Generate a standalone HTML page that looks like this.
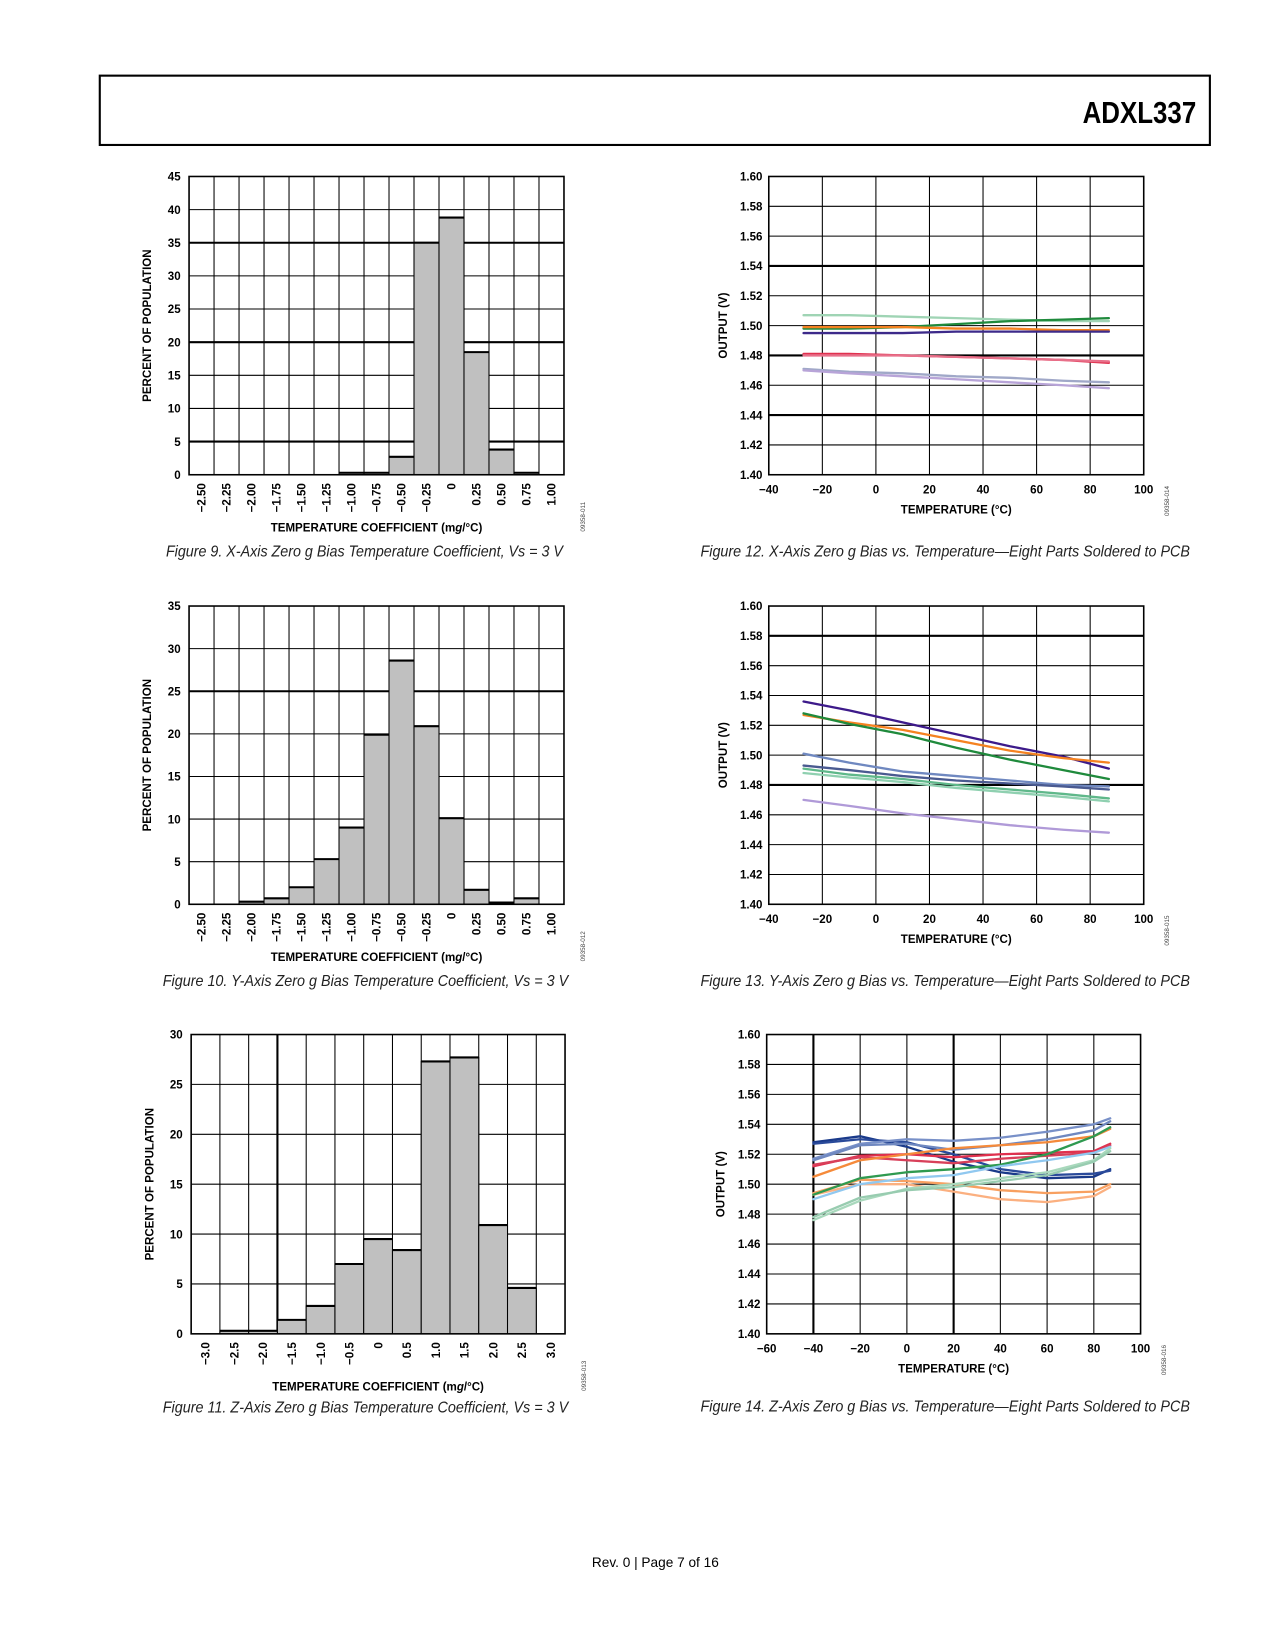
<!DOCTYPE html>
<html><head><meta charset="utf-8"><style>
html,body{margin:0;padding:0;background:#fff;}
svg{display:block;}
text{font-family:"Liberation Sans",Arial,sans-serif;}
.tk{font-size:11px;font-weight:bold;fill:#000;}
.cap{font-size:15px;font-style:italic;fill:#222;}
.id{font-size:6px;fill:#444;}
</style></head><body>
<svg id="page" width="1275" height="1650" viewBox="0 0 1214 1571" xmlns="http://www.w3.org/2000/svg">
<rect x="95" y="72" width="1057" height="66" fill="none" stroke="#000" stroke-width="2"/>
<text x="1139" y="117" text-anchor="end" style="font-size:29px;font-weight:bold;font-family:'Liberation Sans Narrow','Liberation Sans',sans-serif" transform="translate(1139 0) scale(0.85 1) translate(-1139 0)">ADXL337</text>
<text x="624" y="1492" text-anchor="middle" style="font-size:13px">Rev. 0 | Page 7 of 16</text>
<g id="charts"></g>
</svg>
<script>
// ---- data ----
const hist9Labels = ["−2.50","−2.25","−2.00","−1.75","−1.50","−1.25","−1.00","−0.75","−0.50","−0.25","0","0.25","0.50","0.75","1.00"];
const hist9Values = [0,0,0,0,0,0,0.3,0.3,2.7,35,38.8,18.5,3.8,0.3,0];
const hist10Labels = hist9Labels;
const hist10Values = [0,0,0.3,0.7,2,5.3,9,19.9,28.6,20.9,10.1,1.7,0.2,0.7,0];
const hist11Labels = ["−3.0","−2.5","−2.0","−1.5","−1.0","−0.5","0","0.5","1.0","1.5","2.0","2.5","3.0"];
const hist11Values = [0,0.3,0.3,1.4,2.8,7,9.5,8.4,27.3,27.7,10.9,4.6,0];

const tempsA = [-27,-10,10,30,50,70,87];
const fig12Series = [
 [1.507,1.507,1.506,1.505,1.504,1.503,1.503],
 [1.498,1.498,1.499,1.501,1.503,1.504,1.505],
 [1.499,1.499,1.499,1.498,1.498,1.497,1.497],
 [1.495,1.495,1.495,1.496,1.496,1.496,1.496],
 [1.481,1.481,1.480,1.479,1.478,1.477,1.475],
 [1.480,1.480,1.480,1.479,1.478,1.477,1.476],
 [1.471,1.469,1.468,1.466,1.465,1.463,1.462],
 [1.470,1.468,1.466,1.464,1.462,1.460,1.458]
];
const fig12Colors = ["#9fd4b4","#1f8a3c","#f58220","#3d2a8a","#e0304e","#e8708a","#a0a8c8","#b8a4d8"];
const fig13Series = [
 [1.536,1.530,1.522,1.514,1.506,1.499,1.491],
 [1.527,1.522,1.517,1.510,1.503,1.498,1.495],
 [1.528,1.521,1.514,1.505,1.497,1.490,1.484],
 [1.501,1.495,1.489,1.486,1.483,1.480,1.479],
 [1.493,1.490,1.486,1.483,1.481,1.479,1.477],
 [1.491,1.487,1.484,1.480,1.477,1.474,1.471],
 [1.488,1.485,1.482,1.478,1.475,1.472,1.469],
 [1.470,1.466,1.461,1.457,1.453,1.450,1.448]
];
const fig13Colors = ["#3d1a8a","#f58220","#1f8a3c","#6f88c0","#4a5a90","#5fb88a","#8fd0b0","#b09ad8"];
const tempsB = [-40,-20,0,20,40,60,80,87];
const fig14Series = [
 [1.528,1.532,1.525,1.515,1.508,1.504,1.505,1.510],
 [1.527,1.530,1.528,1.520,1.510,1.506,1.507,1.509],
 [1.517,1.527,1.530,1.529,1.531,1.535,1.540,1.544],
 [1.516,1.526,1.527,1.523,1.526,1.530,1.536,1.542],
 [1.512,1.519,1.520,1.518,1.520,1.521,1.522,1.527],
 [1.513,1.518,1.516,1.514,1.517,1.519,1.521,1.526],
 [1.505,1.516,1.520,1.524,1.526,1.528,1.532,1.537],
 [1.494,1.503,1.502,1.500,1.496,1.494,1.495,1.500],
 [1.493,1.500,1.500,1.495,1.490,1.488,1.492,1.498],
 [1.493,1.504,1.508,1.510,1.513,1.520,1.532,1.538],
 [1.490,1.500,1.504,1.506,1.512,1.516,1.521,1.525],
 [1.476,1.489,1.497,1.500,1.504,1.508,1.516,1.524],
 [1.478,1.491,1.496,1.498,1.502,1.506,1.515,1.522]
];
const fig14Colors = ["#1a3a8a","#2a4a9a","#7890c8","#6f88c0","#e0304e","#d8405a","#f58a3a","#f8a060","#fbb080","#2f9a50","#90c8f0","#a8d8bc","#98ccb0"];

const NS="http://www.w3.org/2000/svg";
const root=document.getElementById('charts');
function mk(tag,attrs,parent){const e=document.createElementNS(NS,tag);for(const k in attrs)e.setAttribute(k,attrs[k]);(parent||root).appendChild(e);return e;}
function txt(s,attrs,parent){const e=mk('text',attrs,parent);e.textContent=s;return e;}

function histogram(name,x0,x1,y0,y1,ymax,step,labels,values,thickY,thickX,caption,capX,capY,capW,idText){
  const g=mk('g',{});
  
  
  const n=labels.length, cw=(x1-x0)/n;
  const ys=v=>y1-(v/ymax)*(y1-y0);
  for(let v=0;v<=ymax;v+=step){
    const l=mk('line',{x1:x0,x2:x1,y1:ys(v),y2:ys(v),stroke:'#000','stroke-width':thickY.includes(v)?2:1},g);
    
    
    const t=txt(String(v),{x:x0-8,y:ys(v)+4,'text-anchor':'end',class:'tk'},g);
    
    
  }
  for(let i=0;i<=n;i++){
    const l=mk('line',{x1:x0+i*cw,x2:x0+i*cw,y1:y0,y2:y1,stroke:'#000','stroke-width':thickX.includes(i)?2:1},g);
    
    
  }
  values.forEach((v,i)=>{
    if(v<=0)return;
    const r=mk('rect',{x:x0+i*cw,y:ys(v),width:cw,height:y1-ys(v),fill:'#c0c0c0',stroke:'#000','stroke-width':1},g);
    
    
    const top=mk('line',{x1:x0+i*cw,x2:x0+(i+1)*cw,y1:ys(v),y2:ys(v),stroke:'#000','stroke-width':2},g);
    
    
  });
  mk('rect',{x:x0,y:y0,width:x1-x0,height:y1-y0,fill:'none',stroke:'#000','stroke-width':1.5},g);
  labels.forEach((s,i)=>{
    const cx=x0+(i+0.5)*cw;
    const t=txt(s,{x:0,y:0,'text-anchor':'end',class:'tk',transform:`translate(${cx+4} ${y1+8}) rotate(-90)`},g);
    
    
  });
  const xt=txt('TEMPERATURE COEFFICIENT (m',{x:(x0+x1)/2,y:y1+54,'text-anchor':'middle',class:'tk'},g);
  const ts=document.createElementNS(NS,'tspan');ts.setAttribute('font-style','italic');ts.textContent='g';xt.appendChild(ts);
  xt.appendChild(document.createTextNode('/°C)'));
  
  
  const yt=txt('PERCENT OF POPULATION',{x:0,y:0,'text-anchor':'middle',class:'tk',transform:`translate(${x0-36} ${(y0+y1)/2}) rotate(-90)`},g);
  
  
  const idt=txt(idText,{x:0,y:0,'text-anchor':'middle',class:'id',transform:`translate(${x1+20} ${y1+40}) rotate(-90)`},g);
  
  
  const c=txt(caption,{x:capX,y:capY,'text-anchor':'middle',class:'cap',textLength:capW,lengthAdjust:'spacingAndGlyphs'});
  
  
}

function lineChart(name,x0,x1,y0,y1,xmin,xmax,xstep,thickY,thickX,temps,series,colors,caption,capX,capY,capW,idText){
  const g=mk('g',{});
  
  
  const xs=v=>x0+(v-xmin)/(xmax-xmin)*(x1-x0);
  const ys=v=>y1-(v-1.40)/0.20*(y1-y0);
  for(let i=0;i<=10;i++){
    const v=1.40+i*0.02;
    const l=mk('line',{x1:x0,x2:x1,y1:ys(v),y2:ys(v),stroke:'#000','stroke-width':thickY.includes(i)?2:1},g);
    
    
    const t=txt(v.toFixed(2),{x:x0-6,y:ys(v)+4,'text-anchor':'end',class:'tk'},g);
    
    
  }
  for(let v=xmin;v<=xmax;v+=xstep){
    const l=mk('line',{x1:xs(v),x2:xs(v),y1:y0,y2:y1,stroke:'#000','stroke-width':thickX.includes(v)?2:1},g);
    
    
    const t=txt(v<0?'−'+(-v):String(v),{x:xs(v),y:y1+18,'text-anchor':'middle',class:'tk'},g);
    
    
  }
  mk('rect',{x:x0,y:y0,width:x1-x0,height:y1-y0,fill:'none',stroke:'#000','stroke-width':1.5},g);
  series.forEach((s,k)=>{
    const d=s.map((v,i)=>(i?'L':'M')+xs(temps[i]).toFixed(1)+' '+ys(v).toFixed(1)).join(' ');
    const p=mk('path',{d:d,fill:'none',stroke:colors[k],'stroke-width':2.2,'stroke-linejoin':'round','stroke-linecap':'round'},g);
    
    
  });
  const xt=txt('TEMPERATURE (°C)',{x:(x0+x1)/2,y:y1+37,'text-anchor':'middle',class:'tk'},g);
  
  
  const yt=txt('OUTPUT (V)',{x:0,y:0,'text-anchor':'middle',class:'tk',transform:`translate(${x0-40} ${(y0+y1)/2}) rotate(-90)`},g);
  
  
  const idt=txt(idText,{x:0,y:0,'text-anchor':'middle',class:'id',transform:`translate(${x1+24} ${y1+25}) rotate(-90)`},g);
  
  
  const c=txt(caption,{x:capX,y:capY,'text-anchor':'middle',class:'cap',textLength:capW,lengthAdjust:'spacingAndGlyphs'});
  
  
}

histogram('figure-9-histogram',180,537,168,452,45,5,hist9Labels,hist9Values,[5,20,35],[],
 'Figure 9. X-Axis Zero g Bias Temperature Coefficient, Vs = 3 V',347,530,378,'09358-011');
histogram('figure-10-histogram',180,537,577,861,35,5,hist10Labels,hist10Values,[25],[],
 'Figure 10. Y-Axis Zero g Bias Temperature Coefficient, Vs = 3 V',348,939,386,'09358-012');
histogram('figure-11-histogram',182,538,985,1270,30,5,hist11Labels,hist11Values,[],[3],
 'Figure 11. Z-Axis Zero g Bias Temperature Coefficient, Vs = 3 V',348,1345,386,'09358-013');

lineChart('figure-12-line-chart',732,1089,168,452,-40,100,20,[7,4,2],[],tempsA,fig12Series,fig12Colors,
 'Figure 12. X-Axis Zero g Bias vs. Temperature—Eight Parts Soldered to PCB',900,530,466,'09358-014');
lineChart('figure-13-line-chart',732,1089,577,861,-40,100,20,[9,4],[],tempsA,fig13Series,fig13Colors,
 'Figure 13. Y-Axis Zero g Bias vs. Temperature—Eight Parts Soldered to PCB',900,939,466,'09358-015');
lineChart('figure-14-line-chart',730,1086,985,1270,-60,100,20,[],[-40,20],tempsB,fig14Series,fig14Colors,
 'Figure 14. Z-Axis Zero g Bias vs. Temperature—Eight Parts Soldered to PCB',900,1344,466,'09358-016');
</script>
</body></html>
